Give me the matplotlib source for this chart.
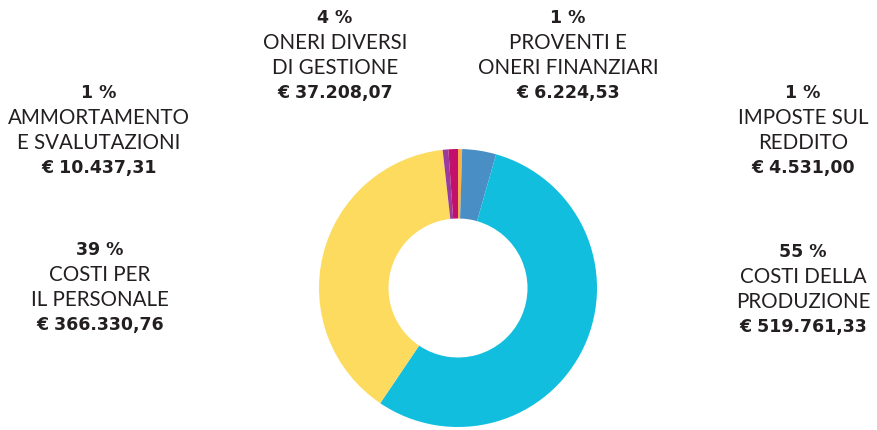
import matplotlib.pyplot as plt

# dati (ordine in senso orario partendo dall'alto)
labels = ['IMPOSTE SUL\nREDDITO', 'ONERI DIVERSI\nDI GESTIONE', 'COSTI DELLA\nPRODUZIONE',
          'COSTI PER\nIL PERSONALE', 'PROVENTI E\nONERI FINANZIARI', 'AMMORTAMENTO\nE SVALUTAZIONI']
values = [4531.00, 37208.07, 519761.33, 366330.76, 6224.53, 10437.31]
percents = ['1 %', '4 %', '55 %', '39 %', '1 %', '1 %']
amounts = ['€ 4.531,00', '€ 37.208,07', '€ 519.761,33', '€ 366.330,76', '€ 6.224,53', '€ 10.437,31']
colors = ['#F9B24C', '#4A8EC6', '#12BEDE', '#FDDB5E', '#9A3C9E', '#C3106B']

W, H = 877, 431
fig = plt.figure(figsize=(W / 100, H / 100), dpi=100)

# ciambella
cx, cy, r = 458, 289, 139
ax = fig.add_axes([(cx - r) / W, (H - cy - r) / H, 2 * r / W, 2 * r / H])
ax.pie(values, colors=colors, startangle=90, counterclock=False,
       wedgeprops=dict(width=0.5, linewidth=0))
ax.set_xlim(-1, 1)
ax.set_ylim(-1, 1)
ax.set_aspect('equal')
ax.axis('off')

# posizioni etichette (pixel: centro x, y della prima riga)
label_pos = [(803, 93), (335, 18), (803, 252), (100, 250), (568, 18), (99, 93)]
step = 25
txt_col = '#231F20'

for lab, pc, am, (x, y) in zip(labels, percents, amounts, label_pos):
    lines = lab.split('\n')
    fig.text(x / W, 1 - y / H, pc, ha='center', va='center', fontsize=12.5,
             family='DejaVu Sans', fontweight='bold', color=txt_col)
    for i, ln in enumerate(lines):
        fig.text(x / W, 1 - (y + step * (i + 1)) / H, ln, ha='center', va='center',
                 fontsize=14.8, family='Lato', color=txt_col)
    fig.text(x / W, 1 - (y + step * (len(lines) + 1)) / H, am, ha='center', va='center',
             fontsize=12.5, family='DejaVu Sans', fontweight='bold', color=txt_col)

plt.savefig('out.png', dpi=100)
